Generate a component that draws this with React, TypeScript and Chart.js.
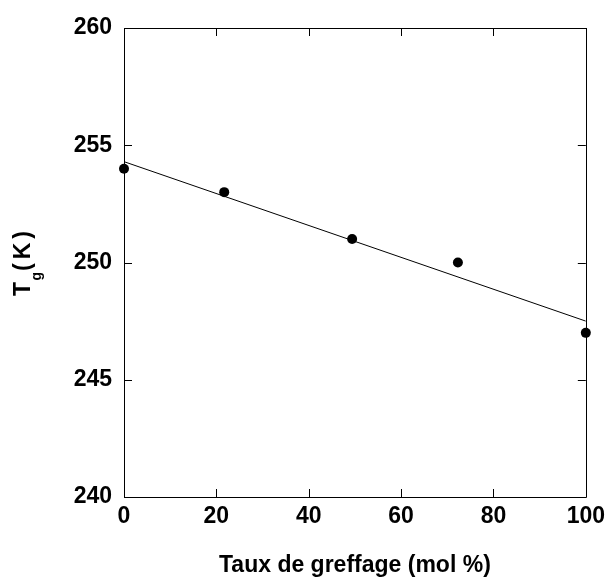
import React, { useEffect, useRef } from "react";
import { Chart, registerables } from "chart.js";

Chart.register(...registerables);

const grafting = [0, 21.7, 49.4, 72.3, 100];
const tgValues = [254, 253, 251, 250, 247];
const fitX = [0, 100];
const fitY = [254.3, 247.5];
const xTicks = [0, 20, 40, 60, 80, 100];
const yTicks = [240, 245, 250, 255, 260];
const xTitle = "Taux de greffage (mol %)";
const yTitleMain = "T";
const yTitleSub = "g";
const yTitleUnit = "(K)";

const FONT = '"Liberation Sans", Arial, Helvetica, sans-serif';

const framePlugin = {
  id: "framePlugin",
  beforeDatasetsDraw(chart: any) {
    const { ctx, chartArea, scales } = chart;
    const { left, right, top, bottom } = chartArea;
    ctx.save();
    ctx.strokeStyle = "#000";
    ctx.lineWidth = 1;
    ctx.beginPath();
    ctx.rect(Math.round(left) + 0.5, Math.round(top) + 0.5, Math.round(right - left), Math.round(bottom - top));
    ctx.stroke();
    const tl = 8;
    ctx.beginPath();
    for (const v of xTicks) {
      const px = Math.round(scales.x.getPixelForValue(v)) + 0.5;
      ctx.moveTo(px, bottom);
      ctx.lineTo(px, bottom - tl);
      ctx.moveTo(px, top);
      ctx.lineTo(px, top + tl);
    }
    for (const v of yTicks) {
      const py = Math.round(scales.y.getPixelForValue(v)) + 0.5;
      ctx.moveTo(left, py);
      ctx.lineTo(left + tl, py);
      ctx.moveTo(right, py);
      ctx.lineTo(right - tl, py);
    }
    ctx.stroke();
    ctx.restore();
  },
  afterDraw(chart: any) {
    const { ctx, chartArea } = chart;
    ctx.save();
    ctx.fillStyle = "#000";
    // x title
    ctx.font = `bold 23px ${FONT}`;
    ctx.textAlign = "center";
    ctx.textBaseline = "alphabetic";
    ctx.fillText(xTitle, (chartArea.left + chartArea.right) / 2, 572);
    // y title rotated with subscript
    ctx.translate(30, 296);
    ctx.rotate(-Math.PI / 2);
    ctx.textAlign = "left";
    ctx.font = `bold 23px ${FONT}`;
    ctx.fillText(yTitleMain, 0, 0);
    const wT = ctx.measureText(yTitleMain).width;
    ctx.font = `bold 14px ${FONT}`;
    ctx.fillText(yTitleSub, wT + 1.5, 11);
    const wg = ctx.measureText(yTitleSub).width;
    ctx.font = `bold 23px ${FONT}`;
    try { (ctx as any).letterSpacing = "4px"; } catch (e) {}
    ctx.fillText(yTitleUnit, wT + 1.5 + wg + 1, 0);
    try { (ctx as any).letterSpacing = "0px"; } catch (e) {}
    ctx.restore();
  },
};

export default function App() {
  const ref = useRef<HTMLCanvasElement | null>(null);
  useEffect(() => {
    if (!ref.current) return;
    const chart = new Chart(ref.current, {
      type: "scatter",
      data: {
        datasets: [
          {
            label: "fit",
            data: fitX.map((x, i) => ({ x, y: fitY[i] })),
            showLine: true,
            borderColor: "#000",
            borderWidth: 1,
            pointRadius: 0,
            fill: false,
          },
          {
            label: "Tg",
            data: grafting.map((x, i) => ({ x, y: tgValues[i] })),
            showLine: false,
            pointRadius: 5,
            pointBackgroundColor: "#000",
            pointBorderColor: "#000",
            pointBorderWidth: 0,
            clip: false,
          } as any,
        ],
      },
      options: {
        animation: false,
        responsive: false,
        devicePixelRatio: 1,
        layout: { padding: { left: 0, top: 28, right: 19, bottom: 0 } },
        plugins: { legend: { display: false }, tooltip: { enabled: false } },
        scales: {
          x: {
            type: "linear",
            min: 0,
            max: 100,
            afterFit: (s: any) => { s.height = 80; },
            afterBuildTicks: (s: any) => { s.ticks = xTicks.map((v) => ({ value: v })); },
            grid: { display: false, drawTicks: false },
            border: { display: false },
            ticks: { color: "#000", font: { family: FONT, size: 23, weight: "bold" }, padding: 6, maxRotation: 0 },
          },
          y: {
            type: "linear",
            min: 240,
            max: 260,
            afterFit: (s: any) => { s.width = 124; },
            afterBuildTicks: (s: any) => { s.ticks = yTicks.map((v) => ({ value: v })); },
            grid: { display: false, drawTicks: false },
            border: { display: false },
            ticks: { color: "#000", font: { family: FONT, size: 23, weight: "bold" }, padding: 12 },
          },
        },
      },
      plugins: [framePlugin],
    });
    return () => chart.destroy();
  }, []);
  return (
    <canvas
      ref={ref}
      width={611}
      height={577}
      style={{ position: "fixed", left: 0, top: 0, width: 611, height: 577, background: "#fff" }}
    />
  );
}
